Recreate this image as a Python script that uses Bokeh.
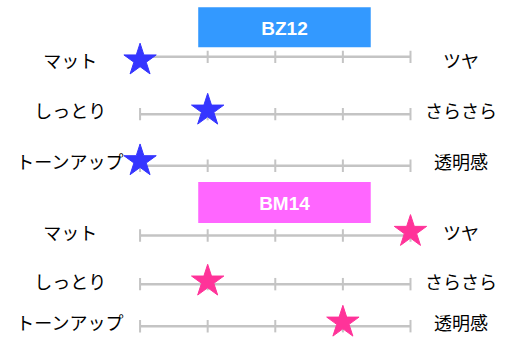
from bokeh.plotting import figure
from bokeh.models import Range1d
from bokeh.embed import file_html
from bokeh.resources import INLINE
from bokeh.core.properties import value

# ---- data ----
products = ["BZ12", "BM14"]
left_labels = ["マット", "しっとり", "トーンアップ"]
right_labels = ["ツヤ", "さらさら", "透明感"]
scores_bz12 = [0, 1, 0]
scores_bm14 = [4, 1, 3]
scale_ticks = [0, 1, 2, 3, 4]

# ---- layout (reference-pixel positions, mapped by the figure's ranges) ----
REF_W, REF_H = 520, 356
PX0 = 144.0      # pixel of value 0
PX_UNIT = 69.75  # pixels per scale unit


def xv(px):
    return (px - PX0) / PX_UNIT


star_y = [[62.5, 115, 168], [242, 294, 337]]
line_y = [[59, 119, 173], [246, 297, 341]]
box_y = [(7, 49), (190, 233)]
box_x = (204, 382)
box_colors = ["#3399ff", "#ff66ff"]
star_colors = ["#3535ff", "#ff3399"]
left_x = 72
right_x = 475

W, H = 504, 340
p = figure(width=W, height=H, output_backend="svg", toolbar_location=None,
           x_range=Range1d(xv(0), xv(REF_W)), y_range=Range1d(REF_H, 0),
           min_border=0, min_border_left=0, min_border_right=0,
           min_border_top=0, min_border_bottom=0)
p.axis.visible = False
p.grid.visible = False
p.outline_line_color = None
p.background_fill_color = "white"
p.border_fill_color = "white"

all_scores = [scores_bz12, scores_bm14]
for g, name in enumerate(products):
    # header box
    p.quad(left=[xv(box_x[0])], right=[xv(box_x[1])], top=[box_y[g][0]], bottom=[box_y[g][1]],
           fill_color=box_colors[g], line_color=None)
    p.text(x=[xv((box_x[0] + box_x[1]) / 2)], y=[(box_y[g][0] + box_y[g][1]) / 2 + 1], text=[name],
           text_color="white", text_font=value("Liberation Sans"), text_font_style="bold",
           text_font_size="19px", text_align="center", text_baseline="middle")
    for r in range(3):
        ly = line_y[g][r]
        p.segment(x0=[scale_ticks[0]], x1=[scale_ticks[-1]], y0=[ly], y1=[ly],
                  line_color="#c4c4c4", line_width=2.5)
        p.segment(x0=scale_ticks, x1=scale_ticks, y0=[ly - 6.5] * len(scale_ticks),
                  y1=[ly + 6.5] * len(scale_ticks), line_color="#c4c4c4", line_width=2)
        sy = star_y[g][r]
        p.text(x=[xv(left_x)], y=[sy], text=[left_labels[r]], text_color="black",
               text_font=value("Noto Sans CJK JP"), text_font_size="18px",
               text_align="center", text_baseline="middle")
        p.text(x=[xv(right_x)], y=[sy], text=[right_labels[r]], text_color="black",
               text_font=value("Noto Sans CJK JP"), text_font_size="18px",
               text_align="center", text_baseline="middle")
        p.scatter(x=[all_scores[g][r]], y=[sy], marker="star", size=34,
                  fill_color=star_colors[g], line_color=star_colors[g])

open("out.html", "w").write(file_html(p, INLINE))
